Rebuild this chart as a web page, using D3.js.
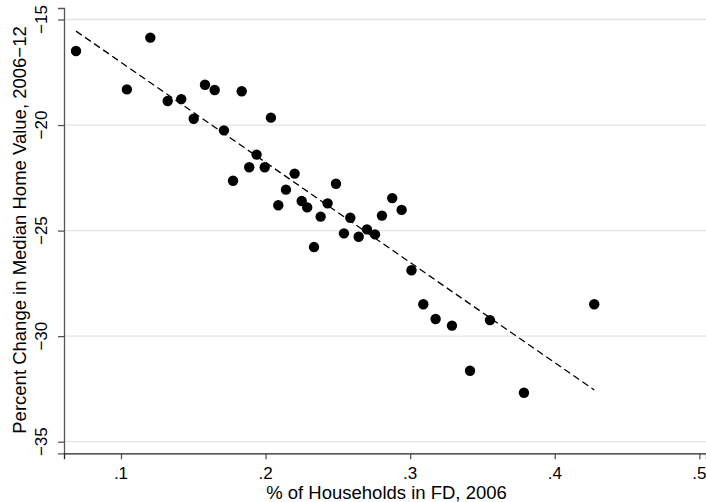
<!DOCTYPE html>
<html lang="en">
    <head>
        <meta charset="utf-8" />
        <script src="https://cdn.jsdelivr.net/npm/d3@7"></script>
        <style>
            body { margin: 0; background: #fff; }
            text { font-family: "Liberation Sans", Arial, sans-serif; fill: #000; }
            .tick-label { font-size: 17px; }
            .title { font-size: 18.5px; }
        </style>
    </head>
    <body>
        <script>
            // share of households in FD (2006) vs % change in median home value (2006-12)
            var fdShare = [0.0689, 0.1041, 0.1203, 0.1323, 0.1417, 0.1503, 0.1581, 0.1648, 0.1712, 0.1775,
                           0.1835, 0.1887, 0.1938, 0.1994, 0.2037, 0.2088, 0.2141, 0.2201, 0.2250, 0.2288,
                           0.2335, 0.2381, 0.2429, 0.2487, 0.2542, 0.2586, 0.2644, 0.2701, 0.2757, 0.2805,
                           0.2876, 0.2941, 0.3009, 0.3091, 0.3176, 0.3289, 0.3414, 0.3552, 0.3787, 0.4273];
            var homeChange = [-16.49, -18.31, -15.86, -18.86, -18.77, -19.70, -18.09, -18.34, -20.25, -22.64,
                              -18.40, -22.00, -21.40, -22.00, -19.65, -23.80, -23.06, -22.30, -23.60, -23.90,
                              -25.78, -24.34, -23.71, -22.78, -25.13, -24.39, -25.29, -24.94, -25.18, -24.29,
                              -23.46, -24.02, -26.88, -28.49, -29.19, -29.50, -31.64, -29.24, -32.68, -28.49];

            // fitted line, endpoints
            var fitX = [0.0689, 0.4273];
            var fitY = [-15.55, -32.55];

            var xTicks = [0.1, 0.2, 0.3, 0.4, 0.5];
            var xTickLabels = [".1", ".2", ".3", ".4", ".5"];
            var yTicks = [-35, -30, -25, -20, -15];

            var width = 706,
                height = 502;

            var svg = d3.select("body").append("svg")
                .attr("width", width)
                .attr("height", height);

            var x = d3.scaleLinear().domain([0.0606, 0.5046]).range([64, 706]);
            var y = d3.scaleLinear().domain([-35.55, -14.455]).range([453.3, 8]);

            // grid lines
            svg.append("g").selectAll("line")
                .data(yTicks)
                .enter().append("line")
                .attr("x1", 64).attr("x2", 706)
                .attr("y1", function (d) { return y(d); })
                .attr("y2", function (d) { return y(d); })
                .attr("stroke", "#e4e4e4")
                .attr("stroke-width", 1.3);

            // y axis
            var yAxis = svg.append("g")
                .attr("transform", "translate(64,0)")
                .call(d3.axisLeft(y).tickValues(yTicks).tickSize(6).tickFormat(""));
            yAxis.select(".domain").attr("stroke", "#555").attr("stroke-width", 1.3);
            yAxis.selectAll(".tick line").attr("stroke", "#555").attr("stroke-width", 1.3);

            svg.append("g").selectAll("text")
                .data(yTicks)
                .enter().append("text")
                .attr("class", "tick-label")
                .attr("transform", function (d) { return "translate(47," + y(d) + ") rotate(-90)"; })
                .attr("text-anchor", "middle")
                .text(function (d) { return d3.format("d")(d).replace("-", "\u2212"); });

            // x axis
            var xAxis = svg.append("g")
                .attr("transform", "translate(0,453.3)")
                .call(d3.axisBottom(x).tickValues(xTicks).tickSize(6).tickFormat(""));
            xAxis.select(".domain").attr("stroke", "#222").attr("stroke-width", 1.3);
            xAxis.selectAll(".tick line").attr("stroke", "#555").attr("stroke-width", 1.3);

            svg.append("g").selectAll("text")
                .data(xTicks)
                .enter().append("text")
                .attr("class", "tick-label")
                .attr("x", function (d) { return x(d); })
                .attr("y", 478.5)
                .attr("text-anchor", "middle")
                .text(function (d, i) { return xTickLabels[i]; });

            // titles
            svg.append("text")
                .attr("class", "title")
                .attr("x", 386.5).attr("y", 499)
                .attr("text-anchor", "middle")
                .text("% of Households in FD, 2006");

            svg.append("text")
                .attr("class", "title")
                .attr("transform", "translate(26,230) rotate(-90)")
                .attr("text-anchor", "middle")
                .text("Percent Change in Median Home Value, 2006\u221212");

            // dashed fit line
            svg.append("line")
                .attr("x1", x(fitX[0])).attr("y1", y(fitY[0]))
                .attr("x2", x(fitX[1])).attr("y2", y(fitY[1]))
                .attr("stroke", "#000")
                .attr("stroke-width", 1.3)
                .attr("stroke-dasharray", "7,4");

            // points
            svg.append("g").selectAll("circle")
                .data(fdShare)
                .enter().append("circle")
                .attr("cx", function (d) { return x(d); })
                .attr("cy", function (d, i) { return y(homeChange[i]); })
                .attr("r", 5.2)
                .attr("fill", "#000");
        </script>
    </body>
</html>
